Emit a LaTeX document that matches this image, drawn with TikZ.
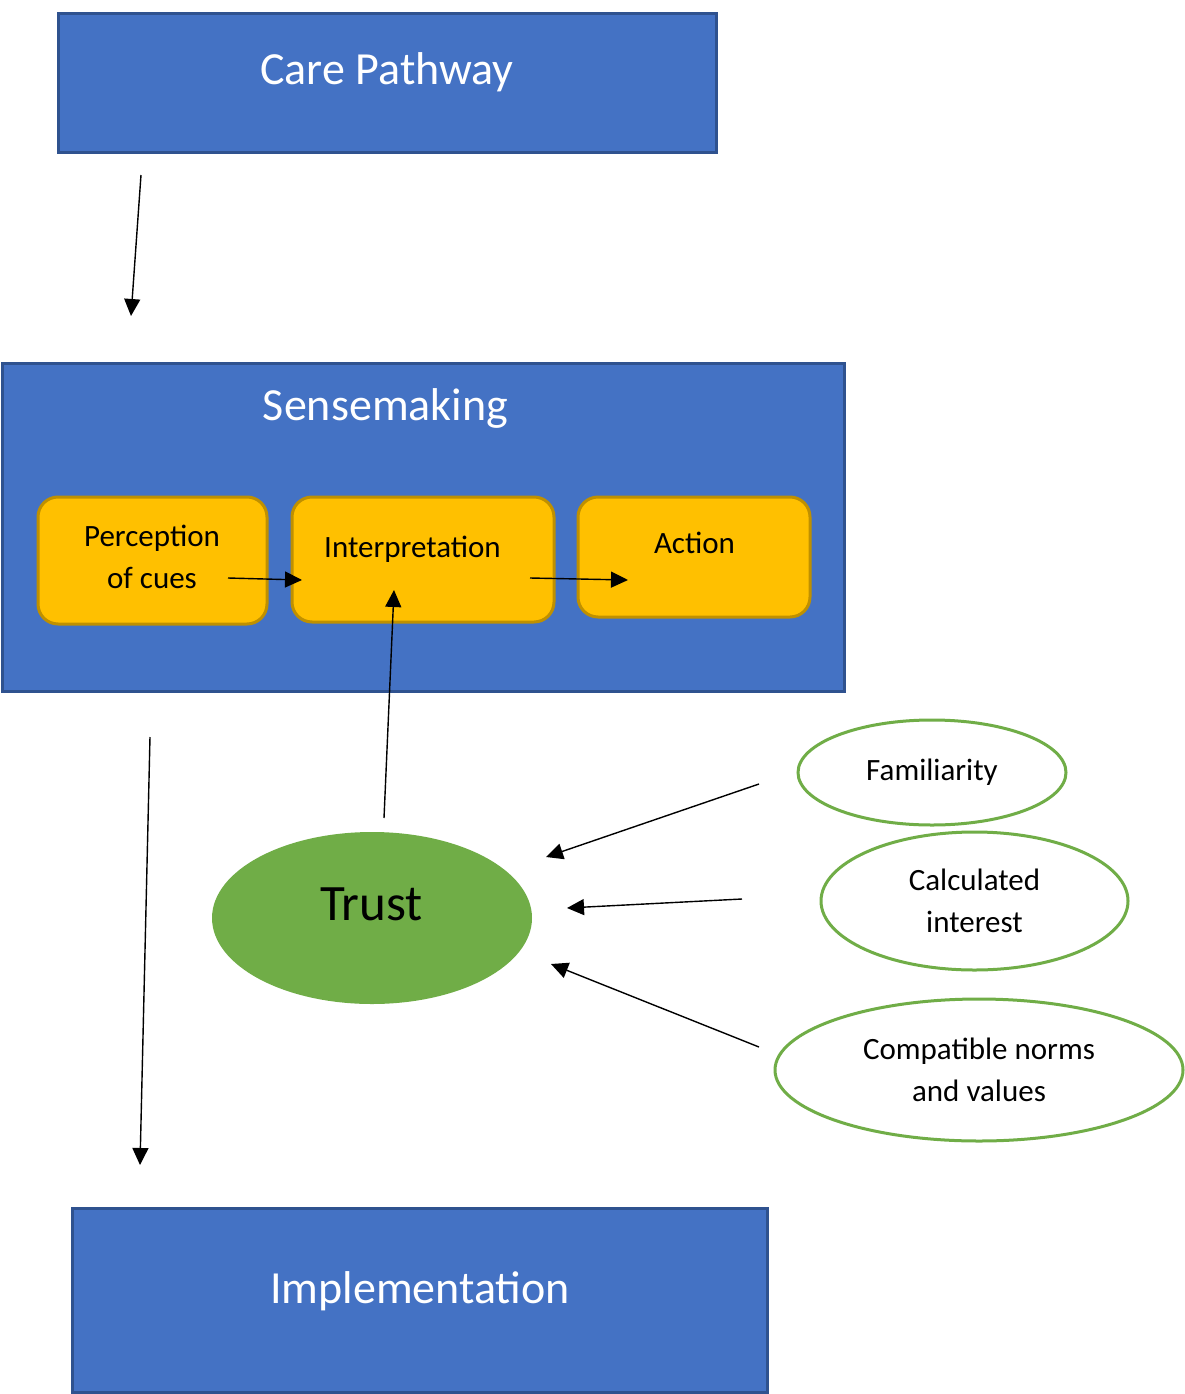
\documentclass[tikz,border=0pt]{standalone}
\usepackage{fontspec}
\setmainfont{Carlito}
\usetikzlibrary{shapes.geometric,arrows.meta}
\definecolor{blockblue}{HTML}{4472C4}
\definecolor{blockedge}{HTML}{2F528F}
\definecolor{stageyellow}{HTML}{FFC000}
\definecolor{stageedge}{HTML}{BF9000}
\definecolor{trustgreen}{HTML}{70AD47}

\begin{document}
\begin{tikzpicture}[x=1pt, y=-1pt]
        \path[use as bounding box] (0,0) rectangle (1185,1394);
        %
        \tikzset{BLK/.style={rectangle, draw=blockedge, fill=blockblue, line width=3pt, inner sep=0pt}}
        \tikzset{STAGE/.style={rectangle, rounded corners=20pt, draw=stageedge, fill=stageyellow, line width=3pt, inner sep=0pt}}
        \tikzset{SRC/.style={ellipse, draw=trustgreen, fill=white, line width=3pt, inner sep=0pt, align=center, font=\fontsize{31}{42}\selectfont}}
        \tikzset{BIG/.style={text=white, font=\fontsize{46}{55}\selectfont, anchor=base, inner sep=0pt}}
        \tikzset{SMALL/.style={font=\fontsize{31}{42}\selectfont, inner sep=0pt, align=center}}
        \tikzset{ARR/.style={-{Triangle[length=17pt, width=16pt]}, line width=1.4pt}}
        %
        \draw (387,83) node[BLK, minimum width=658pt, minimum height=138pt](CP){};
        \draw (387,85) node[BIG](CPt){Care Pathway};
        %
        \draw (423,527) node[BLK, minimum width=842pt, minimum height=328pt](SM){};
        \draw (385.5,420) node[BIG](SMt){Sensemaking};
        %
        \draw (152.5,560.5) node[STAGE, minimum width=229pt, minimum height=127pt](PC){};
        \draw (152,556.5) node[SMALL](PCt){Perception\\of cues};
        \draw (423,559.5) node[STAGE, minimum width=262pt, minimum height=125pt](IN){};
        \draw (412.5,557) node[SMALL, anchor=base](INt){Interpretation};
        \draw (694,557) node[STAGE, minimum width=232pt, minimum height=120pt](AC){};
        \draw (694.5,553) node[SMALL, anchor=base](ACt){Action};
        %
        \draw (372,918) node[ellipse, fill=trustgreen, inner sep=0pt, minimum width=320pt, minimum height=172pt](TR){};
        \draw (371.5,920) node[anchor=base, inner sep=0pt, font=\fontsize{51}{60}\selectfont](TRt){Trust};
        %
        \draw (932,772.5) node[SRC, minimum width=268pt, minimum height=105pt](FA){Familiarity};
        \draw (974.5,901) node[SRC, minimum width=307pt, minimum height=138pt](CI){Calculated\\interest};
        \draw (979,1070) node[SRC, minimum width=408pt, minimum height=142pt](NV){Compatible norms\\and values};
        %
        \draw (419.5,1300) node[BLK, minimum width=695pt, minimum height=184pt](IM){};
        \draw (420,1303) node[BIG](IMt){Implementation};
        %
        \coordinate (CPa) at (141,175);
        \coordinate (CPb) at (131,316);
        \coordinate (PCa) at (228,578);
        \coordinate (PCb) at (302,580);
        \coordinate (INa) at (530,578);
        \coordinate (INb) at (628,580);
        \coordinate (SMa) at (150,737);
        \coordinate (SMb) at (140,1165);
        \coordinate (TRa) at (384,818);
        \coordinate (TRb) at (394,590);
        \coordinate (FAa) at (759,784);
        \coordinate (FAb) at (546,857);
        \coordinate (CIa) at (742,899);
        \coordinate (CIb) at (567,908);
        \coordinate (NVa) at (759,1047);
        \coordinate (NVb) at (551,964);
        %
        \draw[ARR] (CPa) -- (CPb);
        \draw[ARR] (PCa) -- (PCb);
        \draw[ARR] (INa) -- (INb);
        \draw[ARR] (SMa) -- (SMb);
        \draw[ARR] (TRa) -- (TRb);
        \draw[ARR] (FAa) -- (FAb);
        \draw[ARR] (CIa) -- (CIb);
        \draw[ARR] (NVa) -- (NVb);
\end{tikzpicture}
\end{document}
